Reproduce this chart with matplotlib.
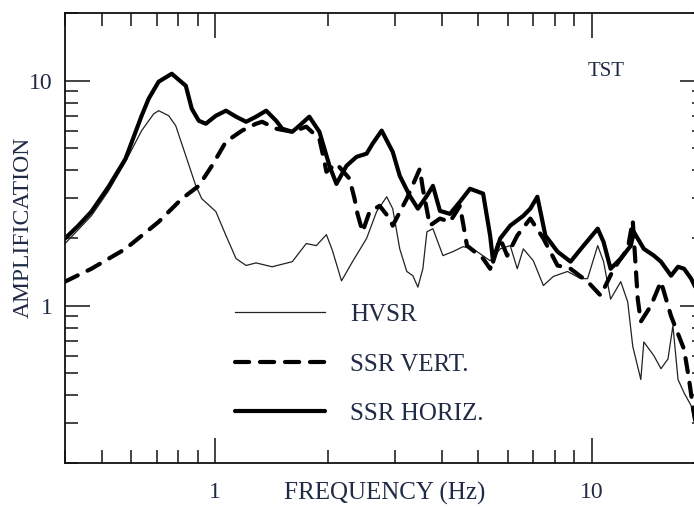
import matplotlib
matplotlib.use("Agg")
import matplotlib.pyplot as plt
from matplotlib.ticker import FixedLocator, FixedFormatter, NullFormatter

plt.rcParams["font.family"] = ["Liberation Serif", "DejaVu Serif"]
TEXT_COLOR = "#1f2a44"

# HVSR (thin line): frequency in Hz, amplification
hvsr_freq = [0.40, 0.434, 0.47, 0.522, 0.579, 0.639, 0.688, 0.709, 0.754, 0.787,
             0.837, 0.89, 0.923, 1.006, 1.07, 1.138, 1.21, 1.286, 1.419, 1.605,
             1.748, 1.859, 1.977, 2.051, 2.168, 2.319, 2.527, 2.687, 2.858, 2.965,
             3.095, 3.231, 3.353, 3.458, 3.565, 3.654, 3.791, 4.03, 4.285, 4.556,
             4.845, 5.378, 5.719, 6.081, 6.348, 6.587, 7.003, 7.447, 7.919, 8.63,
             9.348, 9.757, 10.38, 10.76, 11.23, 11.95, 12.47, 12.86, 13.51, 13.76,
             14.63, 15.28, 15.95, 16.44, 16.96, 17.6, 18.37, 18.94]
hvsr_amp = [1.89, 2.18, 2.51, 3.24, 4.37, 6.00, 7.13, 7.36, 6.99, 6.31,
            4.64, 3.41, 2.99, 2.62, 2.05, 1.62, 1.51, 1.55, 1.49, 1.57,
            1.89, 1.85, 2.07, 1.76, 1.29, 1.57, 1.99, 2.62, 3.05, 2.70,
            1.79, 1.42, 1.36, 1.21, 1.46, 2.13, 2.20, 1.67, 1.74, 1.83,
            1.79, 1.585, 1.79, 1.85, 1.46, 1.79, 1.585, 1.23, 1.35, 1.42,
            1.32, 1.32, 1.85, 1.57, 1.07, 1.28, 1.04, 0.66, 0.47, 0.69,
            0.60, 0.525, 0.58, 0.815, 0.47, 0.41, 0.36, 0.28]

# SSR with vertical reference (dashed)
vert_freq = [0.40, 0.47, 0.579, 0.709, 0.817, 0.906, 0.982, 1.07, 1.18, 1.286,
             1.335, 1.454, 1.605, 1.748, 1.894, 1.953, 1.977, 2.102, 2.277, 2.348,
             2.391, 2.466, 2.574, 2.737, 2.911, 2.965, 3.231, 3.499, 3.565, 3.721,
             3.957, 4.207, 4.473, 4.669, 5.152, 5.378, 5.719, 5.97, 6.348, 6.875,
             7.447, 8.118, 8.79, 9.757, 10.57, 11.45, 12.47, 12.86, 13.26, 13.51,
             14.37, 15.28, 16.25, 16.96, 17.6, 18.14, 18.6, 18.94]
vert_amp = [1.28, 1.46, 1.79, 2.36, 2.99, 3.41, 4.19, 5.36, 6.00, 6.44,
            6.57, 6.12, 5.93, 6.25, 5.52, 4.37, 3.94, 4.28, 3.67, 2.99,
            2.56, 2.13, 2.62, 2.78, 2.44, 2.27, 2.99, 4.06, 3.31, 2.27,
            2.44, 2.36, 2.78, 1.85, 1.62, 1.46, 1.99, 1.67, 2.05, 2.44,
            1.99, 1.51, 1.46, 1.28, 1.11, 1.46, 1.79, 2.39, 1.07, 0.85,
            1.00, 1.28, 0.90, 0.75, 0.64, 0.47, 0.35, 0.29]

# SSR with horizontal reference (thick solid)
horiz_freq = [0.40, 0.434, 0.47, 0.522, 0.579, 0.639, 0.667, 0.709, 0.768, 0.837,
              0.868, 0.906, 0.946, 1.006, 1.07, 1.138, 1.21, 1.286, 1.368, 1.454,
              1.509, 1.605, 1.675, 1.781, 1.894, 2.014, 2.102, 2.236, 2.377, 2.527,
              2.622, 2.771, 2.965, 3.095, 3.291, 3.458, 3.654, 3.791, 3.957, 4.207,
              4.473, 4.756, 5.152, 5.378, 5.478, 5.719, 6.081, 6.587, 6.875, 7.178,
              7.54, 8.118, 8.79, 9.522, 10.38, 10.76, 11.23, 11.95, 12.71, 12.94,
              13.76, 14.63, 15.28, 16.25, 16.96, 17.6, 18.37, 18.94]
horiz_amp = [1.99, 2.27, 2.62, 3.38, 4.50, 6.99, 8.32, 9.90, 10.74, 9.50,
             7.51, 6.64, 6.44, 6.99, 7.36, 6.92, 6.57, 6.92, 7.36, 6.64,
             6.12, 5.93, 6.31, 6.92, 5.93, 4.19, 3.48, 4.19, 4.59, 4.74,
             5.25, 6.00, 4.83, 3.78, 3.08, 2.70, 3.08, 3.41, 2.64, 2.56,
             2.90, 3.31, 3.15, 2.05, 1.57, 1.99, 2.27, 2.51, 2.70, 3.05,
             2.05, 1.74, 1.57, 1.85, 2.20, 1.92, 1.46, 1.62, 1.85, 2.13,
             1.79, 1.67, 1.57, 1.36, 1.49, 1.46, 1.32, 1.19]


def style_log_axis(ax):
    ax.set_xscale("log")
    ax.set_yscale("log")
    ax.set_xlim(0.4, 20)
    ax.set_ylim(0.2, 20)

    x_minor = [0.4, 0.5, 0.6, 0.7, 0.8, 0.9] + list(range(2, 10)) + [20]
    y_minor = [0.2, 0.3, 0.4, 0.5, 0.6, 0.7, 0.8, 0.9] + list(range(2, 10)) + [20]
    ax.xaxis.set_major_locator(FixedLocator([1, 10]))
    ax.xaxis.set_major_formatter(FixedFormatter(["1", "10"]))
    ax.xaxis.set_minor_locator(FixedLocator(x_minor))
    ax.xaxis.set_minor_formatter(NullFormatter())
    ax.yaxis.set_major_locator(FixedLocator([1, 10]))
    ax.yaxis.set_major_formatter(FixedFormatter(["1", "10"]))
    ax.yaxis.set_minor_locator(FixedLocator(y_minor))
    ax.yaxis.set_minor_formatter(NullFormatter())

    ax.tick_params(which="both", direction="in", top=True, right=True,
                   width=1.1, color="#111111")
    ax.tick_params(which="major", length=18)
    ax.tick_params(which="minor", length=9.5)
    ax.tick_params(axis="x", which="major", pad=14, labelsize=17,
                   labelcolor=TEXT_COLOR)
    ax.tick_params(axis="y", which="major", pad=9, labelsize=17,
                   labelcolor=TEXT_COLOR)
    for spine in ax.spines.values():
        spine.set_linewidth(1.3)
        spine.set_color("#111111")


def main():
    fig = plt.figure(figsize=(6.94, 5.08), dpi=100)
    ax = fig.add_axes([65 / 694, 45 / 508, 640 / 694, 450 / 508])

    ax.plot(hvsr_freq, hvsr_amp, color="#222222", linewidth=0.9, label="HVSR")
    ax.plot(vert_freq, vert_amp, color="black", linewidth=3.0,
            dashes=(3.4, 2.6), dash_capstyle="round", label="SSR VERT.")
    ax.plot(horiz_freq, horiz_amp, color="black", linewidth=3.0,
            solid_capstyle="round", label="SSR HORIZ.")

    style_log_axis(ax)

    ax.set_xlabel("FREQUENCY (Hz)", fontsize=18, color=TEXT_COLOR)
    ax.xaxis.set_label_coords(0.5, -0.042)
    ax.set_ylabel("AMPLIFICATION", fontsize=17, color=TEXT_COLOR)
    ax.yaxis.set_label_coords(-0.049, 0.524)

    ax.text(0.845, 0.87, "TST", transform=ax.transAxes, fontsize=15,
            color=TEXT_COLOR, ha="center", va="center")

    ax.legend(loc="upper left", bbox_to_anchor=(0.266, 0.354), frameon=False,
              fontsize=18, handlelength=3.6, handletextpad=1.0,
              labelspacing=1.08, borderpad=0, borderaxespad=0,
              labelcolor=TEXT_COLOR)

    fig.savefig("out.png", dpi=100)
    plt.close(fig)


if __name__ == "__main__":
    main()
